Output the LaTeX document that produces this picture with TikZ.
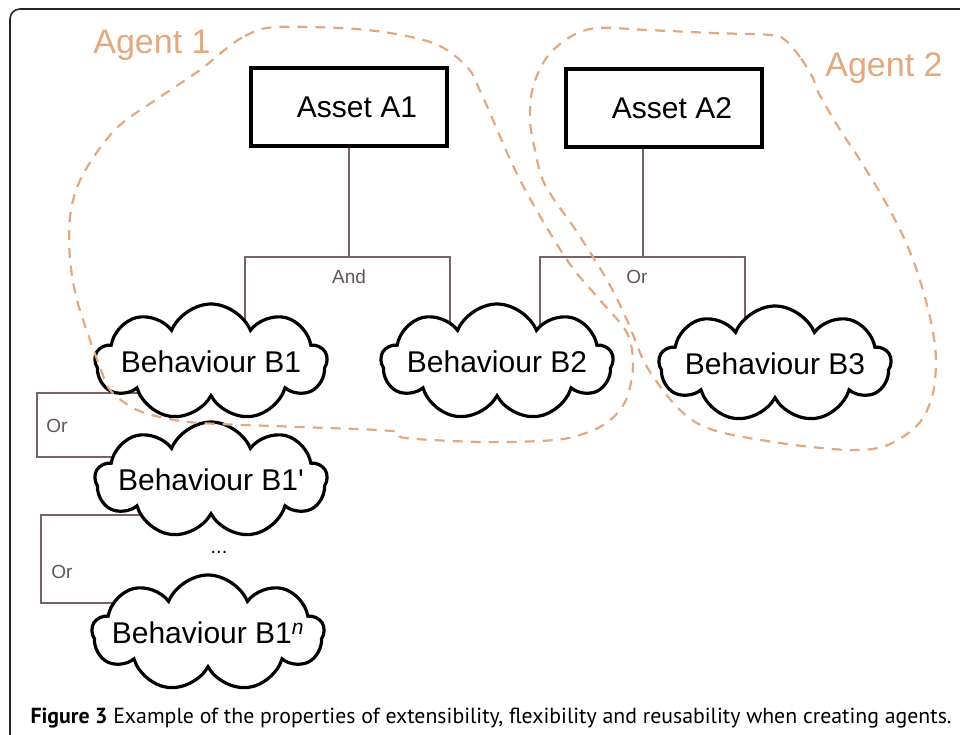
\documentclass[tikz,border=0pt]{standalone}
\usepackage{fontspec}
\setmainfont{Liberation Sans}
\newfontfamily\capfont{PT Sans}
\usetikzlibrary{shapes.symbols}
\usetikzlibrary{backgrounds}
\definecolor{agentcol}{RGB}{228,168,128}
\definecolor{linkcol}{RGB}{118,100,100}

\begin{document}
\begin{tikzpicture}[x = 1pt, y = -1pt]
	\tikzstyle{assetStyle} = [rectangle, draw, line width = 3.2pt, minimum width = 196pt, minimum height = 78pt, font = \fontsize{30}{36}\selectfont]
	\tikzstyle{behStyle} = [cloud, cloud puffs = 9, cloud puff arc = 135, aspect = 2, draw, line width = 3.2pt, fill = white, minimum width = 232pt, minimum height = 116pt, inner sep = 0pt, label distance = 0pt, label = {[font = \fontsize{30}{36}\selectfont]center:#1}]
	\tikzstyle{linkStyle} = [draw = linkcol, line width = 1.8pt]
	\tikzstyle{opStyle} = [text = linkcol!85!black, font = \fontsize{19}{22}\selectfont]
	\tikzstyle{agentStyle} = [draw = agentcol, line width = 2.2pt, dash pattern = on 10pt off 8pt]
	\tikzstyle{agentText} = [text = agentcol, font = \fontsize{34}{40}\selectfont]
	\useasboundingbox (0,0) rectangle (960,735);
	\clip (0,0) rectangle (960,735);
	\draw[line width = 1.6pt, black!85, rounded corners = 10pt] (10,9) rectangle (990,770);
	\node[assetStyle] (a1) at (349,107) {\hspace{16pt}Asset A1};
	\node[assetStyle] (a2) at (664,108) {\hspace{16pt}Asset A2};
	\node[behStyle = {Behaviour B1}] (b1) at (211,362) {};
	\node[behStyle = {Behaviour B2}] (b2) at (497,362) {};
	\node[behStyle = {Behaviour B3}] (b3) at (775,364) {};
	\node[behStyle = {Behaviour B1\textquotesingle}] (b1p) at (211,480) {};
	\node[behStyle = {Behaviour B1\textsuperscript{\textit{n}}}] (b1n) at (208,633) {};
	\node[font = \fontsize{20}{24}\selectfont] (dots) at (219,552) {...};
	\coordinate (j1) at (349,257);
	\coordinate (j2) at (643,257);
	\begin{pgfonlayer}{background}
	\draw[linkStyle] (a1.south) -- (j1);
	\draw[linkStyle] (245,0 |- b1.center) |- (j1) -| (450,0 |- b2.center);
	\draw[linkStyle] (j2 |- a2.south) -- (j2);
	\draw[linkStyle] (540,0 |- b2.center) |- (j2) -| (745,0 |- b3.center);
	\draw[linkStyle] (b1.center |- 0,393) -| (37,425) |- (b1p.center |- 0,457);
	\draw[linkStyle] (b1p.center |- 0,515) -| (41,560) |- (b1n.center |- 0,603);
	\end{pgfonlayer}
	\node[opStyle] (and) at (349,277) {And};
	\node[opStyle] (or1) at (637,277) {Or};
	\node[opStyle] (or2) at (57,426) {Or};
	\node[opStyle] (or3) at (62,572) {Or};
	\node[agentText] (ag1) at (152,45) {Agent 1};
	\node[agentText] (ag2) at (884,68) {Agent 2};
	\draw[agentStyle] plot[smooth cycle, tension = 0.55] coordinates {(222,52) (245,36) (277,27) (367,30) (433,43) (467,67) (482,95) (520,180) (567,260) (600,300) (627,333) (633,367) (625,402) (605,424) (573,437) (540,441) (480,442) (405,438) (392,431) (300,427) (200,423) (160,417) (133,408) (110,390) (100,367) (90,340) (77,300) (70,260) (70,217) (78,185) (95,155) (120,125) (160,97) (200,70)};
	\draw[agentStyle] plot[smooth cycle, tension = 0.55] coordinates {(813,78) (800,57) (785,40) (770,35) (713,33) (647,30) (597,28) (570,37) (547,57) (533,87) (530,120) (535,150) (545,185) (577,232) (607,280) (627,320) (647,367) (680,410) (713,430) (780,443) (847,450) (882,447) (907,434) (923,418) (933,393) (936,360) (932,327) (922,287) (908,247) (886,203) (860,160) (837,125) (817,90)};
	\node[anchor = west, font = \capfont\fontsize{21.8}{26}\selectfont] (cap) at (27,718) {\textbf{Figure 3} Example of the properties of extensibility, flexibility and reusability when creating agents.};
\end{tikzpicture}
\end{document}
